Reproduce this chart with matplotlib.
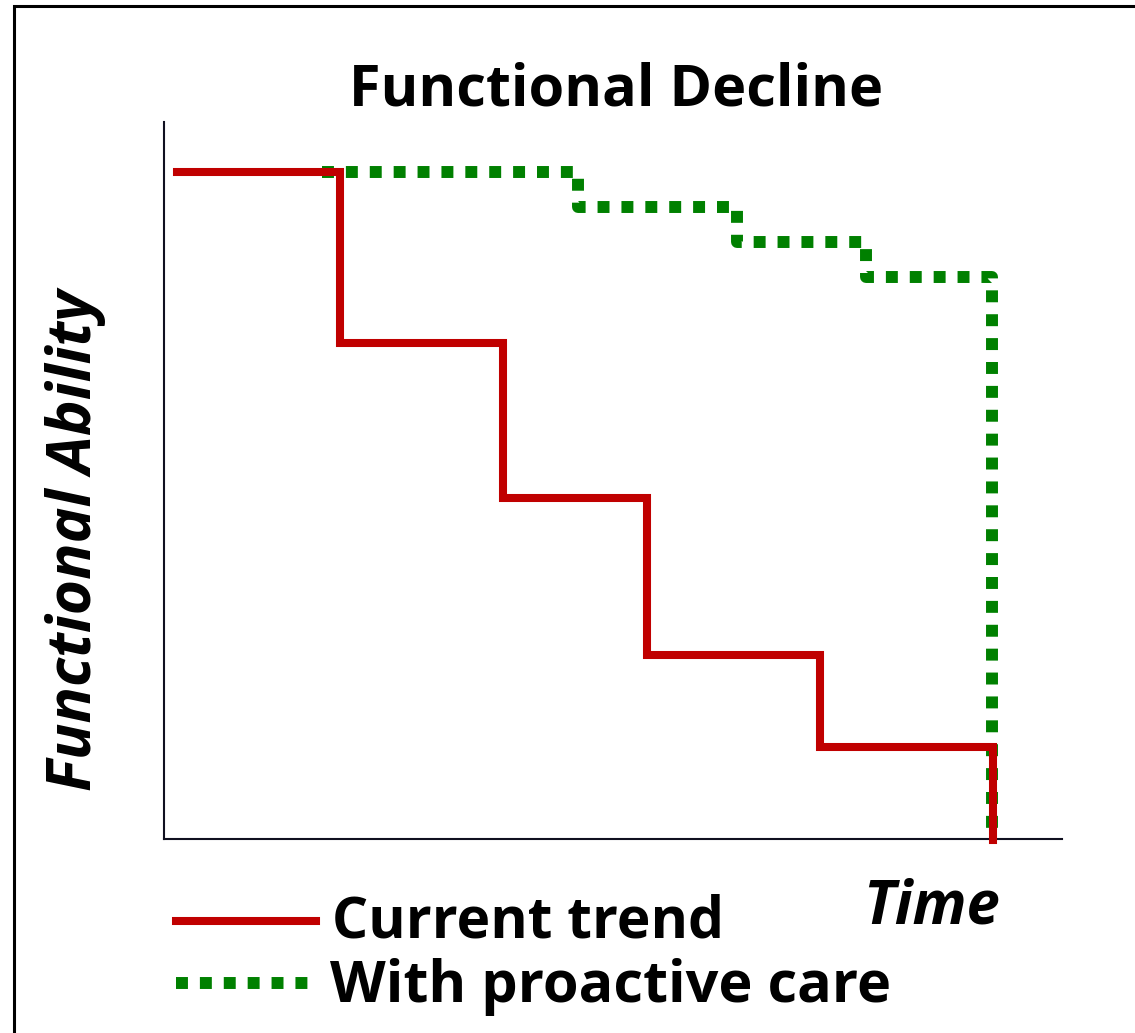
import matplotlib.pyplot as plt
from matplotlib.patches import Rectangle

#----- data (time in %, ability in %) -----
current_x = [1.4, 19.6, 19.6, 37.8, 37.8, 53.8, 53.8, 73.1, 73.1, 92.3, 92.3]
current_y = [93.0, 93.0, 69.2, 69.2, 47.6, 47.6, 25.7, 25.7, 12.8, 12.8, -0.2]
proactive_x = [17.6, 46.1, 46.1, 63.8, 63.8, 78.2, 78.2, 92.2, 92.2]
proactive_y = [93.0, 93.0, 88.1, 88.1, 83.3, 83.3, 78.4, 78.4, -0.2]
labels = ["Current trend", "With proactive care"]

W, H = 1135, 1033
plt.rcParams['font.family'] = ['Open Sans', 'DejaVu Sans']
fig = plt.figure(figsize=(W/100, H/100), dpi=100)

#----- outer frame -----
fig.patches.append(Rectangle((14/W, -0.05), 1.2, 1-6/H+0.05, transform=fig.transFigure,
                             fill=False, edgecolor='black', linewidth=2.2))

#----- axes -----
ax = fig.add_axes([164/W, 1-839/H, (1062-164)/W, (839-122)/H])
ax.set_xlim(0, 100)
ax.set_ylim(0, 100)
for s in ['top', 'right']:
    ax.spines[s].set_visible(False)
for s in ['left', 'bottom']:
    ax.spines[s].set_color('#101020')
    ax.spines[s].set_linewidth(1.5)
ax.set_xticks([])
ax.set_yticks([])
ax.patch.set_alpha(0)

ax.plot(proactive_x, proactive_y, color='#008000', linewidth=8.6,
        linestyle=(0, (1, 1)), dash_capstyle='butt', clip_on=False, zorder=2)
ax.plot(current_x, current_y, color='#c00000', linewidth=5.8,
        solid_joinstyle='miter', clip_on=False, zorder=3)

#----- texts -----
fig.text(616/W, 1-90/H, "Functional Decline", ha='center', va='center',
         fontsize=41.5, fontweight='bold')
fig.text(76/W, 1-540/H, "Functional Ability", ha='center', va='center',
         rotation=90, fontsize=43.5, fontweight='bold', style='italic')
fig.text(931/W, 1-908/H, "Time", ha='center', va='center',
         fontsize=43, fontweight='bold', style='italic')

#----- legend drawn by hand -----
fig.add_artist(plt.Line2D([176/W, 316/W], [1-921/H, 1-921/H], color='#c00000',
                          linewidth=5.8, transform=fig.transFigure))
fig.add_artist(plt.Line2D([176/W, 312/W], [1-983/H, 1-983/H], color='#008000',
                          linewidth=8.6, linestyle=(0, (1, 1)), dash_capstyle='butt',
                          transform=fig.transFigure))
fig.text(332/W, 1-922/H, labels[0], ha='left', va='center', fontsize=41, fontweight='bold')
fig.text(330/W, 1-987/H, labels[1], ha='left', va='center', fontsize=41.5, fontweight='bold')

fig.savefig('out.png', dpi=100)
